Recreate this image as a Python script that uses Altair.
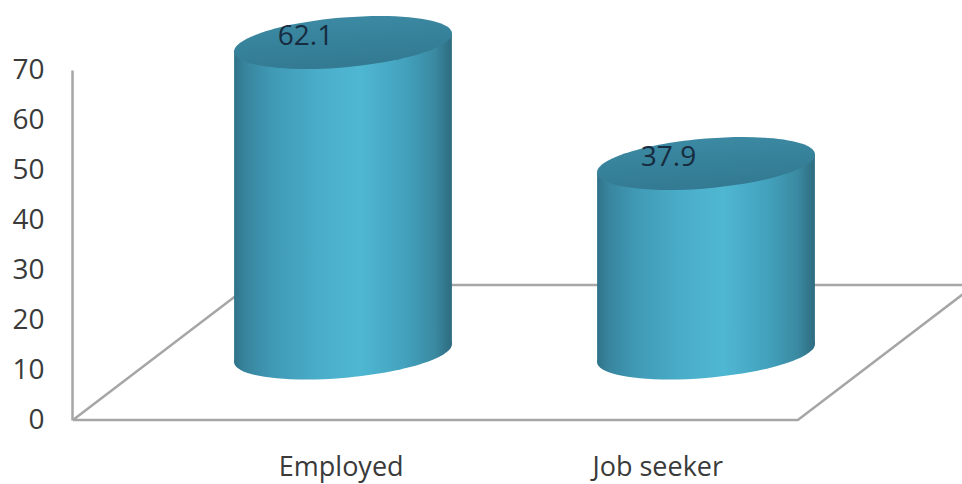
import altair as alt
import pandas as pd

# Chart values
categories = ["Employed", "Job seeker"]
shares = [62.1, 37.9]
tick_values = [0, 10, 20, 30, 40, 50, 60, 70]

# Category captions sit closer together than the cylinders (floor perspective)
caption_slots = [-0.005, 0.867]

# Floor outline, in slot units across and axis units up
floor_slots = [-0.744, 1.253, 1.741, -0.256, -0.744]
floor_levels = [0, 0, 27, 27, 0]

# Cylinder geometry
HALF_WIDTH_SLOTS = 0.3
TILT_LEVELS = 1.8
HALF_WIDTH_PX = 109
TILT_PX = 9
DEPTH_PX = 24.9
ELLIPSE_SIZE = (2 * HALF_WIDTH_PX) ** 2


def tilted_ellipse_path():
    """Unit-normalised SVG path for a tilted ellipse, rising to the right."""
    k = 0.5523
    ux, uy = 1.0, -TILT_PX / HALF_WIDTH_PX
    vx, vy = 0.0, DEPTH_PX / HALF_WIDTH_PX
    pts = [(ux, uy), (vx, vy), (-ux, -uy), (-vx, -vy)]
    tans = [(vx, vy), (-ux, -uy), (-vx, -vy), (ux, uy)]
    d = f"M {pts[0][0]:.4f} {pts[0][1]:.4f}"
    for i in range(4):
        a, b = pts[i], pts[(i + 1) % 4]
        ta, tb = tans[i], tans[(i + 1) % 4]
        c1 = (a[0] + k * ta[0], a[1] + k * ta[1])
        c2 = (b[0] - k * tb[0], b[1] - k * tb[1])
        d += f" C {c1[0]:.4f} {c1[1]:.4f} {c2[0]:.4f} {c2[1]:.4f} {b[0]:.4f} {b[1]:.4f}"
    return d + " Z"


ELLIPSE = tilted_ellipse_path()


def gradient(stops, x2=1, y2=0):
    return alt.LinearGradient(
        gradient="linear",
        x1=0, y1=0, x2=x2, y2=y2,
        stops=[alt.GradientStop(offset=o, color=c) for o, c in stops],
    )


wall_fill = gradient([
    (0.0, "#2f7288"), (0.05, "#38849d"), (0.18, "#409ab6"),
    (0.4, "#4aaeca"), (0.58, "#4fb7d2"), (0.78, "#43a2be"),
    (0.92, "#3a8aa1"), (1.0, "#2e6b80"),
])
lid_fill = gradient([(0.0, "#3f8ca6"), (0.5, "#37839c"), (1.0, "#337a92")], x2=0.3, y2=1)

bars = pd.DataFrame({
    "category": categories,
    "share": shares,
    "slot": list(range(len(categories))),
    "zero": [0] * len(categories),
    "caption_slot": caption_slots,
})

walls = pd.DataFrame([
    {
        "category": c,
        "slot": i + side * HALF_WIDTH_SLOTS,
        "top": v + side * TILT_LEVELS,
        "base": side * TILT_LEVELS,
    }
    for i, (c, v) in enumerate(zip(categories, shares))
    for side in (-1, 1)
])

floor = pd.DataFrame({
    "slot": floor_slots,
    "level": floor_levels,
    "step": list(range(len(floor_slots))),
})

x_scale = alt.Scale(domain=[0, 1], range=[271, 634])
axis_y = alt.Scale(domain=[0, 70], range=[420, 70])
cyl_y = alt.Scale(domain=[0, 70], range=[353, 3])
x = alt.X("slot:Q", scale=x_scale, axis=None)

FONT = "Open Sans"

floor_layer = alt.Chart(floor).mark_line(color="#a6a6a6", strokeWidth=2.5).encode(
    x=x,
    y=alt.Y(
        "level:Q",
        scale=axis_y,
        axis=alt.Axis(
            values=tick_values, title=None, grid=False, ticks=False,
            domainColor="#a6a6a6", domainWidth=2.5,
            labelFont=FONT, labelFontSize=28, labelColor="#3a3a3a",
            labelPadding=28, labelAlign="right", labelBaseline="middle",
        ),
    ),
    order="step:Q",
)

wall_layer = alt.Chart(walls).mark_area(fill=wall_fill, line=False).encode(
    x=x,
    y=alt.Y("top:Q", scale=cyl_y, axis=None, stack=None),
    y2="base:Q",
    detail="category:N",
)

base_layer = alt.Chart(bars).mark_point(
    filled=True, fill=wall_fill, shape=ELLIPSE, size=ELLIPSE_SIZE, opacity=1, strokeWidth=0
).encode(x=x, y=alt.Y("zero:Q", scale=cyl_y, axis=None))

lid_layer = alt.Chart(bars).mark_point(
    filled=True, fill=lid_fill, shape=ELLIPSE, size=ELLIPSE_SIZE, opacity=1, strokeWidth=0
).encode(x=x, y=alt.Y("share:Q", scale=cyl_y, axis=None))

value_layer = alt.Chart(bars).mark_text(
    font=FONT, fontSize=28, color="#172c40", dx=-37.5, dy=-6, baseline="middle"
).encode(
    x=x,
    y=alt.Y("share:Q", scale=cyl_y, axis=None),
    text=alt.Text("share:Q", format=".1f"),
)

caption_layer = alt.Chart(bars).mark_text(
    font=FONT, fontSize=27, color="#3a3a3a", baseline="alphabetic", y=476
).encode(
    x=alt.X("caption_slot:Q", scale=x_scale, axis=None),
    text="category:N",
)

chart = (
    alt.layer(floor_layer, wall_layer, base_layer, lid_layer, value_layer, caption_layer)
    .resolve_scale(y="independent")
    .properties(
        width=890,
        height=484,
        padding={"left": 72, "top": 0, "right": 0, "bottom": 0},
        autosize=alt.AutoSizeParams(type="none"),
        background="#ffffff",
    )
    .configure_view(stroke=None)
)

chart.save("out.html", embed_options={"renderer": "svg", "actions": False})
